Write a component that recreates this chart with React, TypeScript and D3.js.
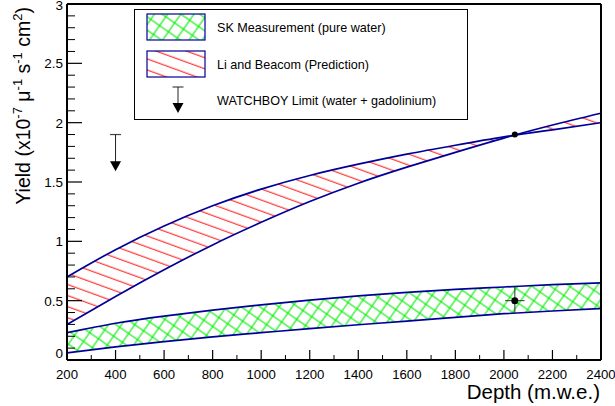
import React from 'react';
import * as d3 from 'd3';

// depth in m.w.e., yield in 1e-7 /mu /s /cm2
const depths = [200, 400, 600, 800, 1000, 1200, 1400, 1600, 1800, 2000, 2200, 2400];
const predHigh = [0.70, 0.93, 1.13, 1.30, 1.44, 1.555, 1.65, 1.735, 1.81, 1.88, 1.94, 2.00];
const predLow = [0.30, 0.535, 0.76, 0.97, 1.16, 1.335, 1.49, 1.625, 1.75, 1.87, 1.98, 2.08];
const skHigh = [0.23, 0.31, 0.37, 0.42, 0.465, 0.505, 0.54, 0.57, 0.595, 0.615, 0.635, 0.65];
const skLow = [0.06, 0.11, 0.155, 0.195, 0.23, 0.265, 0.297, 0.328, 0.36, 0.39, 0.413, 0.433];

const skPoint = [2045, 0.50]; // depth, yield
const skPointErr = [40, 0.11, 0.12]; // depth err, low, high
const predPoint = [2045, 1.90];
const watchboy = [400, 1.90, 1.59]; // depth, limit, arrow tip

const xTicks = [200, 400, 600, 800, 1000, 1200, 1400, 1600, 1800, 2000, 2200, 2400];
const yTicks = [0, 0.5, 1, 1.5, 2, 2.5, 3];
const yTickLabels = ['0', '0.5', '1', '1.5', '2', '2.5', '3'];

const legendLabels = ['SK Measurement (pure water)', 'Li and Beacom (Prediction)', 'WATCHBOY Limit (water + gadolinium)'];

const W = 615, H = 406;
const font = 'Liberation Sans, Arial, Helvetica, sans-serif';
const navy = '#000099';

export default function App() {
  const x = d3.scaleLinear().domain([200, 2400]).range([67, 601]);
  const y = d3.scaleLinear().domain([0, 3]).range([360, 4]);

  const band = (lo: number[], hi: number[]) =>
    d3.area<number>()
      .x((d) => x(d))
      .y0((_, i) => y(lo[i]))
      .y1((_, i) => y(hi[i]))
      .curve(d3.curveNatural)(depths) || '';
  const line = (vals: number[]) =>
    d3.line<number>()
      .x((d) => x(d))
      .y((_, i) => y(vals[i]))
      .curve(d3.curveNatural)(depths) || '';

  const minorY = d3.range(0, 3.001, 0.1).filter((v) => Math.abs(v * 2 - Math.round(v * 2)) > 1e-6);
  const minorX = d3.range(300, 2400, 200);

  const [wx, wLim, wTip] = watchboy;

  return (
    <svg width={W} height={H} style={{ position: 'absolute', left: 0, top: 0, background: '#fff' }} fontFamily={font}>
      <defs>
        <clipPath id="plot">
          <rect x={67} y={4} width={534} height={356} />
        </clipPath>
        <pattern id="redHatch" patternUnits="userSpaceOnUse" width={40} height={10.4} patternTransform="rotate(20)">
          <line x1={0} y1={5} x2={40} y2={5} stroke="#ff0000" strokeWidth={1.1} />
        </pattern>
        <pattern id="greenHatch" patternUnits="userSpaceOnUse" width={10.8} height={10.8} patternTransform="rotate(35)">
          <line x1={0} y1={5} x2={10.8} y2={5} stroke="#00ee00" strokeWidth={1.1} />
          <line x1={5} y1={0} x2={5} y2={10.8} stroke="#00ee00" strokeWidth={1.1} />
        </pattern>
      </defs>
      <rect x={0} y={0} width={W} height={H} fill="#fff" />

      <g clipPath="url(#plot)">
        <path d={band(predLow, predHigh)} fill="url(#redHatch)" />
        <path d={band(skLow, skHigh)} fill="url(#greenHatch)" />
        {[predHigh, predLow, skHigh, skLow].map((v, i) => (
          <path key={i} d={line(v)} fill="none" stroke={navy} strokeWidth={1.7} />
        ))}
      </g>

      {/* SK point with errors */}
      <line x1={x(skPoint[0])} x2={x(skPoint[0])} y1={y(skPoint[1] - skPointErr[1])} y2={y(skPoint[1] + skPointErr[2])} stroke="#333" strokeWidth={1} />
      <line x1={x(skPoint[0] - skPointErr[0])} x2={x(skPoint[0] + skPointErr[0])} y1={y(skPoint[1])} y2={y(skPoint[1])} stroke="#333" strokeWidth={1} />
      <circle cx={x(skPoint[0])} cy={y(skPoint[1])} r={3.5} fill="#000" />
      <circle cx={x(predPoint[0])} cy={y(predPoint[1])} r={3} fill="#000" />

      {/* WATCHBOY limit */}
      <line x1={x(wx) - 5.5} x2={x(wx) + 5.5} y1={y(wLim)} y2={y(wLim)} stroke="#444" strokeWidth={1.2} />
      <line x1={x(wx)} x2={x(wx)} y1={y(wLim)} y2={y(wTip) - 8} stroke="#222" strokeWidth={1} />
      <path d={`M${x(wx) - 5.5},${y(wTip) - 10}L${x(wx) + 5.5},${y(wTip) - 10}L${x(wx)},${y(wTip)}Z`} fill="#000" />

      {/* frame */}
      <line x1={67} x2={601} y1={4} y2={4} stroke="#000" strokeWidth={2} />
      <line x1={601} x2={601} y1={4} y2={360} stroke="#000" strokeWidth={2} />
      <line x1={67} x2={67} y1={4} y2={360} stroke="#000" strokeWidth={2} />
      <line x1={67} x2={601} y1={360} y2={360} stroke="#000" strokeWidth={2} />

      {/* y axis */}
      {yTicks.map((t, i) => (
        <g key={t}>
          <line x1={67} x2={82} y1={y(t)} y2={y(t)} stroke="#000" strokeWidth={1.2} />
          <text x={63} y={y(t) + (t === 0 ? -2 : t === 3 ? 6 : 5)} textAnchor="end" fontSize={13.5} fill="#000">{yTickLabels[i]}</text>
        </g>
      ))}
      {minorY.map((t) => (
        <line key={t} x1={67} x2={75} y1={y(t)} y2={y(t)} stroke="#000" strokeWidth={1} />
      ))}

      {/* x axis */}
      {xTicks.map((t) => (
        <g key={t}>
          <line x1={x(t)} x2={x(t)} y1={360} y2={350} stroke="#000" strokeWidth={1.2} />
          <text x={x(t)} y={379} textAnchor="middle" fontSize={13.2} fill="#000">{t}</text>
        </g>
      ))}
      {minorX.map((t) => (
        <line key={t} x1={x(t)} x2={x(t)} y1={360} y2={355} stroke="#000" strokeWidth={1} />
      ))}

      <text x={600} y={399} textAnchor="end" fontSize={20.5} fill="#000">Depth (m.w.e.)</text>
      <text transform="translate(30,7) rotate(-90)" textAnchor="end" fontSize={19.5} fill="#000">
        Yield (x10<tspan dy={-8} fontSize={13}>-7</tspan>
        <tspan dy={8}> μ</tspan><tspan dy={-8} fontSize={13}>-1</tspan>
        <tspan dy={8}> s</tspan><tspan dy={-8} fontSize={13}>-1</tspan>
        <tspan dy={8}> cm</tspan><tspan dy={-8} fontSize={13}>2</tspan>
        <tspan dy={8}>)</tspan>
      </text>

      {/* legend */}
      <rect x={134.5} y={9.5} width={333} height={110} fill="#fff" stroke="#000" strokeWidth={1} />
      <rect x={147} y={14} width={58} height={26} fill="url(#greenHatch)" stroke={navy} strokeWidth={1.2} />
      <rect x={147} y={51} width={58} height={26} fill="url(#redHatch)" stroke={navy} strokeWidth={1.2} />
      <line x1={172.5} x2={183.5} y1={87} y2={87} stroke="#444" strokeWidth={1.2} />
      <line x1={178} x2={178} y1={87} y2={105} stroke="#222" strokeWidth={1} />
      <path d="M172.5,103L183.5,103L178,113Z" fill="#000" />
      {legendLabels.map((l, i) => (
        <text key={l} x={217} y={[27, 64, 100][i] + 4.5} fontSize={12.6} fill="#000">{l}</text>
      ))}
    </svg>
  );
}
